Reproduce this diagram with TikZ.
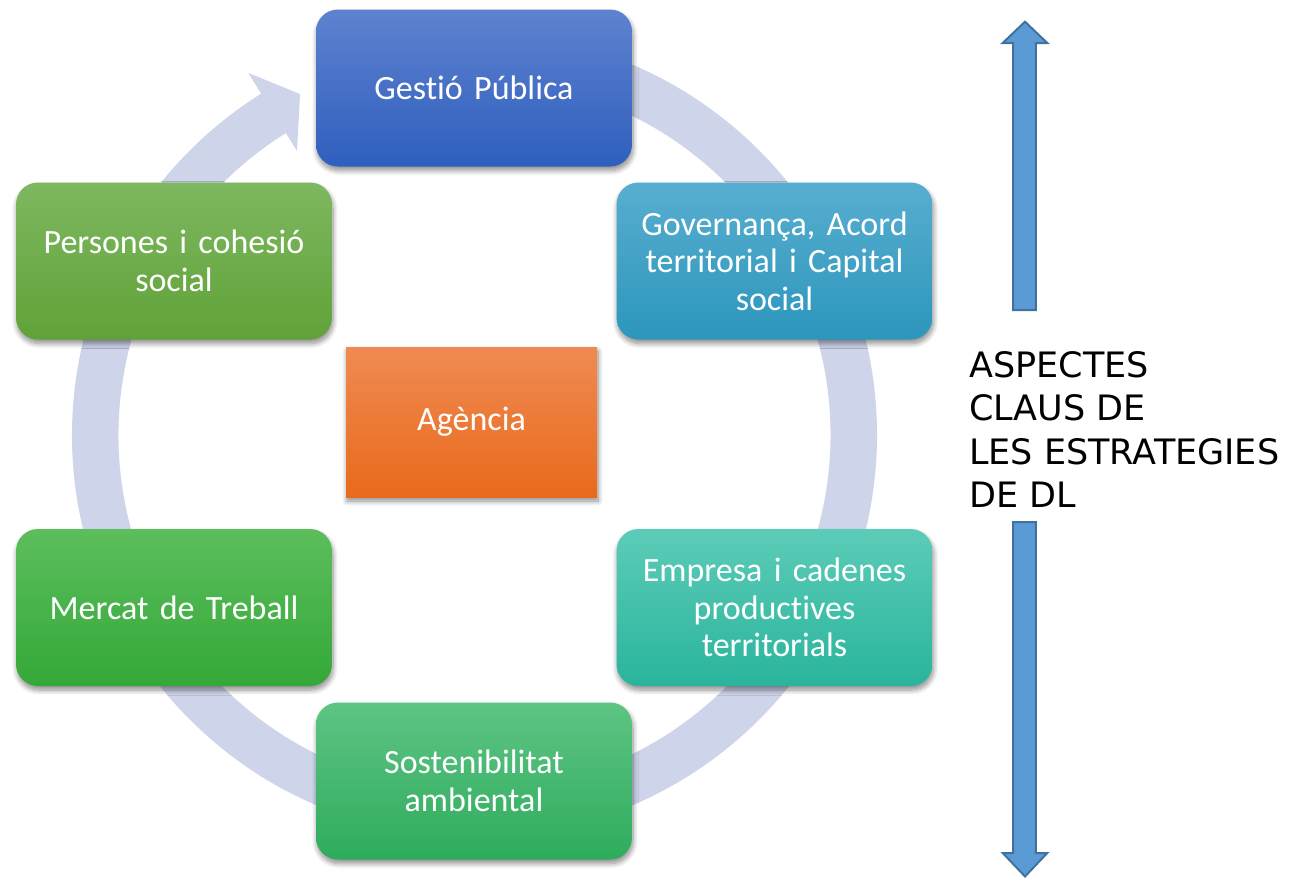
\documentclass[tikz,border=0pt]{standalone}
\usepackage{fontspec}
\setmainfont{Carlito}[Ligatures=NoCommon]
\newfontfamily\capsfont{DejaVu Sans}
\usetikzlibrary{shadows.blur}
\definecolor{ringc}{RGB}{206,212,234}
\definecolor{gpT}{RGB}{94,130,207}\definecolor{gpB}{RGB}{47,95,190}
\definecolor{goT}{RGB}{88,174,208}\definecolor{goB}{RGB}{44,150,188}
\definecolor{emT}{RGB}{92,204,184}\definecolor{emB}{RGB}{42,180,156}
\definecolor{soT}{RGB}{94,196,132}\definecolor{soB}{RGB}{46,172,92}
\definecolor{meT}{RGB}{92,190,92}\definecolor{meB}{RGB}{52,168,56}
\definecolor{peT}{RGB}{126,184,96}\definecolor{peB}{RGB}{96,162,56}
\definecolor{agT}{RGB}{240,138,82}\definecolor{agB}{RGB}{232,106,28}
\definecolor{arrF}{RGB}{91,155,213}\definecolor{arrD}{RGB}{65,113,156}
\begin{document}
\begin{tikzpicture}[x=1pt,y=1pt,
  box/.style={rectangle, rounded corners=22pt, minimum width=316pt, minimum height=157pt,
    inner sep=4pt, align=center, text=white, text width=300pt,
    font=\fontsize{34}{37.5}\selectfont,
    blur shadow={shadow blur steps=8, shadow xshift=1pt, shadow yshift=-4pt, shadow opacity=45, shadow blur radius=5pt}},
  bigarrow/.style={fill=arrF, draw=arrD, line width=2pt, line join=miter}]
\useasboundingbox (0,0) rectangle (1299,-878);
% circular arrow
\begin{scope}[shift={(474.5,-435)}]
\fill[ringc] (85:402.5) arc[start angle=85, end angle=-238, radius=402.5]
  -- (-238:427) -- (-242.9:383) -- (-238:335) -- (-238:356)
  arc[start angle=-238, end angle=85, radius=356] -- cycle;
\end{scope}
% boxes
\node[box, shading=axis, top color=gpT, bottom color=gpB] (gp) at (474,-88) {Gestió Pública};
\node[box, shading=axis, top color=goT, bottom color=goB] (gov) at (774.5,-261) {Governança, Acord\\territorial i Capital\\social};
\node[box, shading=axis, top color=emT, bottom color=emB] (emp) at (774.5,-607.5) {Empresa i cadenes\\productives\\territorials};
\node[box, shading=axis, top color=soT, bottom color=soB] (sos) at (474,-781) {Sostenibilitat\\ambiental};
\node[box, shading=axis, top color=meT, bottom color=meB] (mer) at (174,-607.5) {Mercat de Treball};
\node[box, shading=axis, top color=peT, bottom color=peB] (per) at (174,-261) {Persones i cohesió\\social};
\node[box, rounded corners=0pt, minimum width=251pt, minimum height=150pt, text width=240pt,
  shading=axis, top color=agT, bottom color=agB] (ag) at (471.5,-422) {\raisebox{-3pt}{Agència}};
% right label
\node[anchor=north west, inner sep=0pt, align=left, text=black,
  font=\capsfont\fontsize{35}{43.5}\selectfont] (lbl) at (969,-351)
  {ASPECTES\\CLAUS DE\\LES ESTRATEGIES\\DE DL};
% vertical arrows
\coordinate (upbase) at (1024.5,-310);
\coordinate (dnbase) at (1024.5,-522);
\draw[bigarrow] (upbase) ++(-11.3,0) -- ++(0,267) -- ++(-10.5,0) -- (1025,-21.7)
  -- (1047.3,-43) -- (1035.8,-43) -- (1035.8,-310) -- cycle;
\draw[bigarrow] (dnbase) ++(-11.3,0) -- ++(0,-331) -- ++(-10.5,0) -- (1025,-876.5)
  -- (1047.3,-853) -- (1035.8,-853) -- (1035.8,-522) -- cycle;
\end{tikzpicture}
\end{document}
